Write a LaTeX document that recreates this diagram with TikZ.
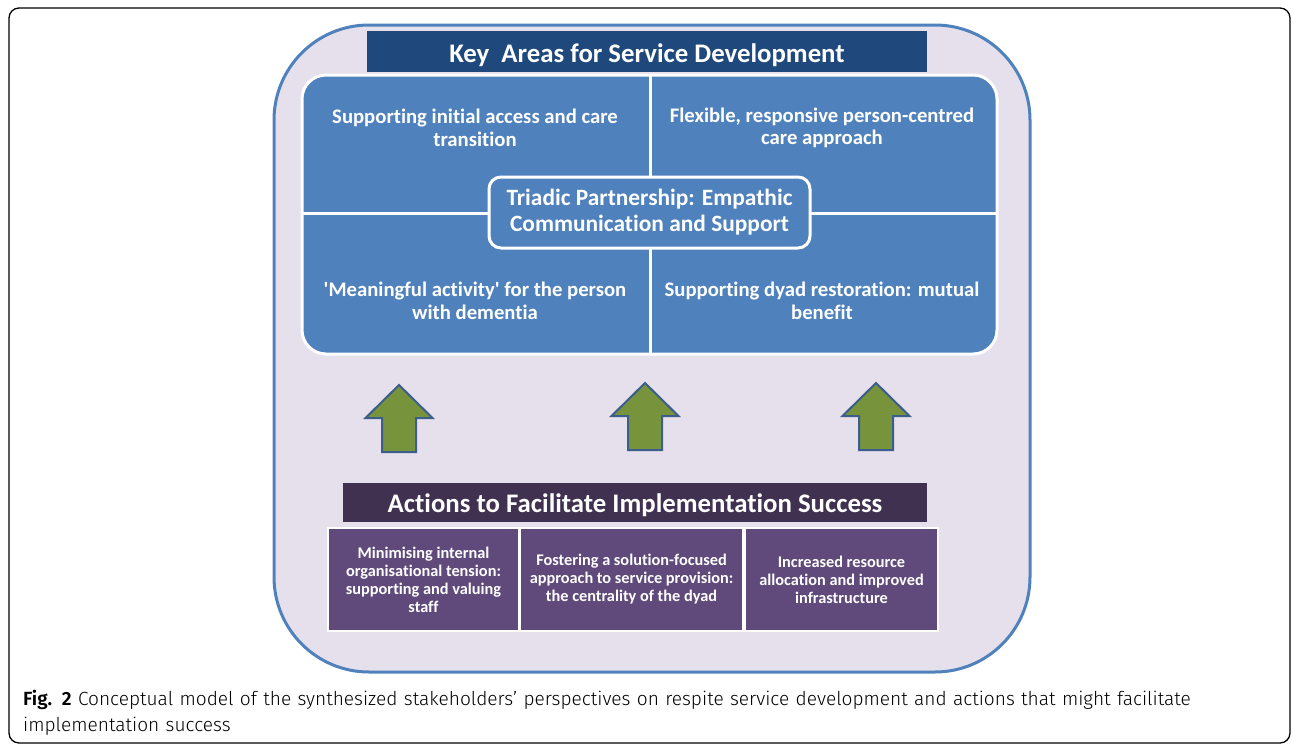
\documentclass[tikz,border=0pt]{standalone}
\usepackage{fontspec}
\setmainfont{Carlito}[Ligatures={NoCommon}]
\newfontfamily\capfont{Fira Sans Light}
\newfontfamily\capfontb{Fira Sans SemiBold}
\definecolor{lav}{HTML}{E5E0EC}
\definecolor{bord}{HTML}{4F81BD}
\definecolor{dblue}{HTML}{1F497D}
\definecolor{pblue}{HTML}{4F81BD}
\definecolor{agreen}{HTML}{77933C}
\definecolor{aedge}{HTML}{3B5E8C}
\definecolor{dpurp}{HTML}{403151}
\definecolor{bpurp}{HTML}{604A7B}
\tikzset{
  x=1pt, y=-1pt,
  wtext/.style={text=white, font=\bfseries, align=center, inner sep=0pt},
  quad/.style={wtext, font=\fontsize{20.7}{22.5}\selectfont\bfseries},
  actbox/.style={draw=white, line width=2pt, fill=bpurp, inner sep=0pt},
  acttext/.style={wtext, font=\fontsize{16.3}{18}\selectfont\bfseries},
  uparrow/.style={fill=agreen, draw=aedge, line width=2pt, line join=miter},
  divider/.style={draw=white, line width=3pt},
}
\begin{document}
\begin{tikzpicture}
\useasboundingbox (0,0) rectangle (1293,745);
% outer frame
\draw[black, line width=1.3pt, rounded corners=10] (9,8) rectangle (1290,743);
% lavender container
\draw[fill=lav, draw=bord, line width=3pt, rounded corners=95] (274,25) rectangle (1030,672);
% title bar
\fill[dblue] (367,31) rectangle (927,72);
\node[text=white, inner sep=0pt, font=\fontsize{26.8}{30}\selectfont\bfseries] (title) at (647,55) {Key\ \ Areas for Service Development};
% blue panel
\draw[fill=pblue, draw=white, line width=3pt, rounded corners=24] (302,75) rectangle (997,354);
\path[divider] (650,75) -- (650,354);
\path[divider] (302,213) -- (997,213);
% center box
\node[draw=white, line width=3pt, fill=pblue, rounded corners=12, minimum width=321, minimum height=71,
      inner sep=0pt, text=white, align=center, font=\fontsize{23.4}{26}\selectfont\bfseries] (triad) at (649.5,212.5)
      {Triadic Partnership: Empathic\\Communication and Support};
% quadrant texts
\node[quad] (q1) at (475,128) {Supporting initial access and care\\transition};
\node[quad] (q2) at (822,128) {Flexible, responsive person-centred\\care approach};
\node[quad] (q3) at (475,301) {\textquotesingle Meaningful activity\textquotesingle\ for the person\\with dementia};
\node[quad] (q4) at (822,301) {Supporting dyad restoration: mutual\\benefit};
% arrows
\foreach \cx/\ty in {399/385, 645/383, 876/383}{
  \draw[uparrow] (\cx,\ty) -- (\cx+33.5,\ty+33) -- (\cx+17,\ty+33) -- (\cx+17,\ty+67)
     -- (\cx-17,\ty+67) -- (\cx-17,\ty+33) -- (\cx-33.5,\ty+33) -- cycle;
}
% actions bar
\fill[dpurp] (343,483) rectangle (927,522);
\node[text=white, inner sep=0pt, font=\fontsize{26.8}{30}\selectfont\bfseries] (actions) at (635,505) {Actions to Facilitate Implementation Success};
% action boxes
\node[actbox, minimum width=191, minimum height=103, anchor=north west] (b1) at (327,527) {};
\node[actbox, minimum width=223, minimum height=103, anchor=north west] (b2) at (519,527) {};
\node[actbox, minimum width=193, minimum height=103, anchor=north west] (b3) at (744,527) {};
\node[acttext] (t1) at (b1.center) {Minimising internal\\organisational tension:\\supporting and valuing\\staff};
\node[acttext] (t2) at (b2.center) {Fostering a solution-focused\\approach to service provision:\\the centrality of the dyad};
\node[acttext] (t3) at (b3.center) {Increased resource\\allocation and improved\\infrastructure};
% caption
\node[anchor=north west, align=left, inner sep=0pt, text width=1250,
      font=\fontsize{19.1}{26}\capfont] (cap) at (23,690)
  {{\capfontb Fig. 2} Conceptual model of the synthesized stakeholders’ perspectives on respite service development and actions that might facilitate\\implementation success};
\end{tikzpicture}
\end{document}
